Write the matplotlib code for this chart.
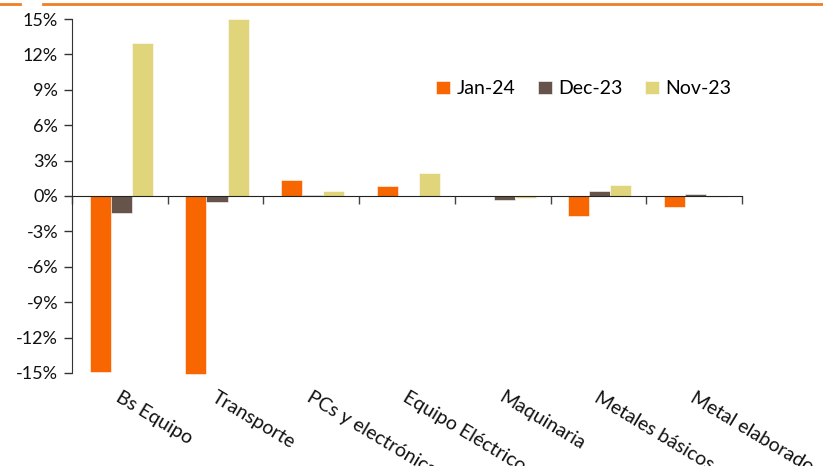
import numpy as np
import matplotlib.pyplot as plt
from matplotlib.transforms import blended_transform_factory
from matplotlib.lines import Line2D

plt.rcParams['font.family'] = ['Lato', 'DejaVu Sans']

categories = ['Bs Equipo', 'Transporte', 'PCs y electrónica', 'Equipo Eléctrico',
              'Maquinaria', 'Metales básicos', 'Metal elaborado']
jan24 = [-14.9, -15.1, 1.35, 0.85, 0.0, -1.7, -0.95]
dec23 = [-1.4, -0.55, 0.05, 0.0, -0.35, 0.45, 0.15]
nov23 = [13.0, 15.0, 0.4, 1.95, -0.2, 0.9, -0.1]
yticks = [-15, -12, -9, -6, -3, 0, 3, 6, 9, 12, 15]

c_jan = '#F76600'
c_dec = '#66544A'
c_nov = '#E0D57A'

fig = plt.figure(figsize=(8.23, 4.66), dpi=100)
ax = fig.add_axes([0.0875, 0.1996, 0.814, 0.7596])

x = np.arange(len(categories))
w = 0.22
ax.bar(x - w + 0.015, jan24, w, color=c_jan, label='Jan-24', edgecolor='white', linewidth=0.4, clip_on=False)
ax.bar(x + 0.015, dec23, w, color=c_dec, label='Dec-23', edgecolor='white', linewidth=0.4, clip_on=False)
ax.bar(x + w + 0.015, nov23, w, color=c_nov, label='Nov-23', edgecolor='white', linewidth=0.4, clip_on=False)

ax.set_xlim(-0.5, len(categories) - 0.5)
ax.set_ylim(-15, 15)
ax.set_yticks(yticks)
ax.set_yticklabels([f'{t}%' for t in yticks], fontsize=13, color='#111111')
ax.tick_params(axis='y', direction='out', length=6, width=1, color='#333333', pad=4)

ax.spines['top'].set_visible(False)
ax.spines['right'].set_visible(False)
ax.spines['left'].set_color('#333333')
ax.spines['bottom'].set_position(('data', 0))
ax.spines['bottom'].set_color('#222222')
ax.set_xticks(np.arange(len(categories) + 1) - 0.5)
ax.set_xticklabels([])
ax.tick_params(axis='x', direction='out', length=6, width=1, color='#444444')

tr = blended_transform_factory(ax.transData, ax.transAxes)
for i, name in enumerate(categories):
    ax.text(i + 0.02, -0.045, name, transform=tr, rotation=-31, rotation_mode='anchor',
            ha='left', va='top', fontsize=14, color='#111111')

ax.legend(loc='upper left', bbox_to_anchor=(0.509, 0.865), ncol=3, frameon=False,
          fontsize=14, handlelength=0.7, handleheight=0.7, handletextpad=0.35,
          columnspacing=1.15, bbox_transform=fig.transFigure)

# orange rule at top of figure
fig.add_artist(Line2D([0, 20 / 823], [0.992, 0.992], color='#F07E26', lw=2, transform=fig.transFigure))
fig.add_artist(Line2D([43 / 823, 1], [0.992, 0.992], color='#F07E26', lw=2, transform=fig.transFigure))

fig.savefig('out.png', dpi=100)
